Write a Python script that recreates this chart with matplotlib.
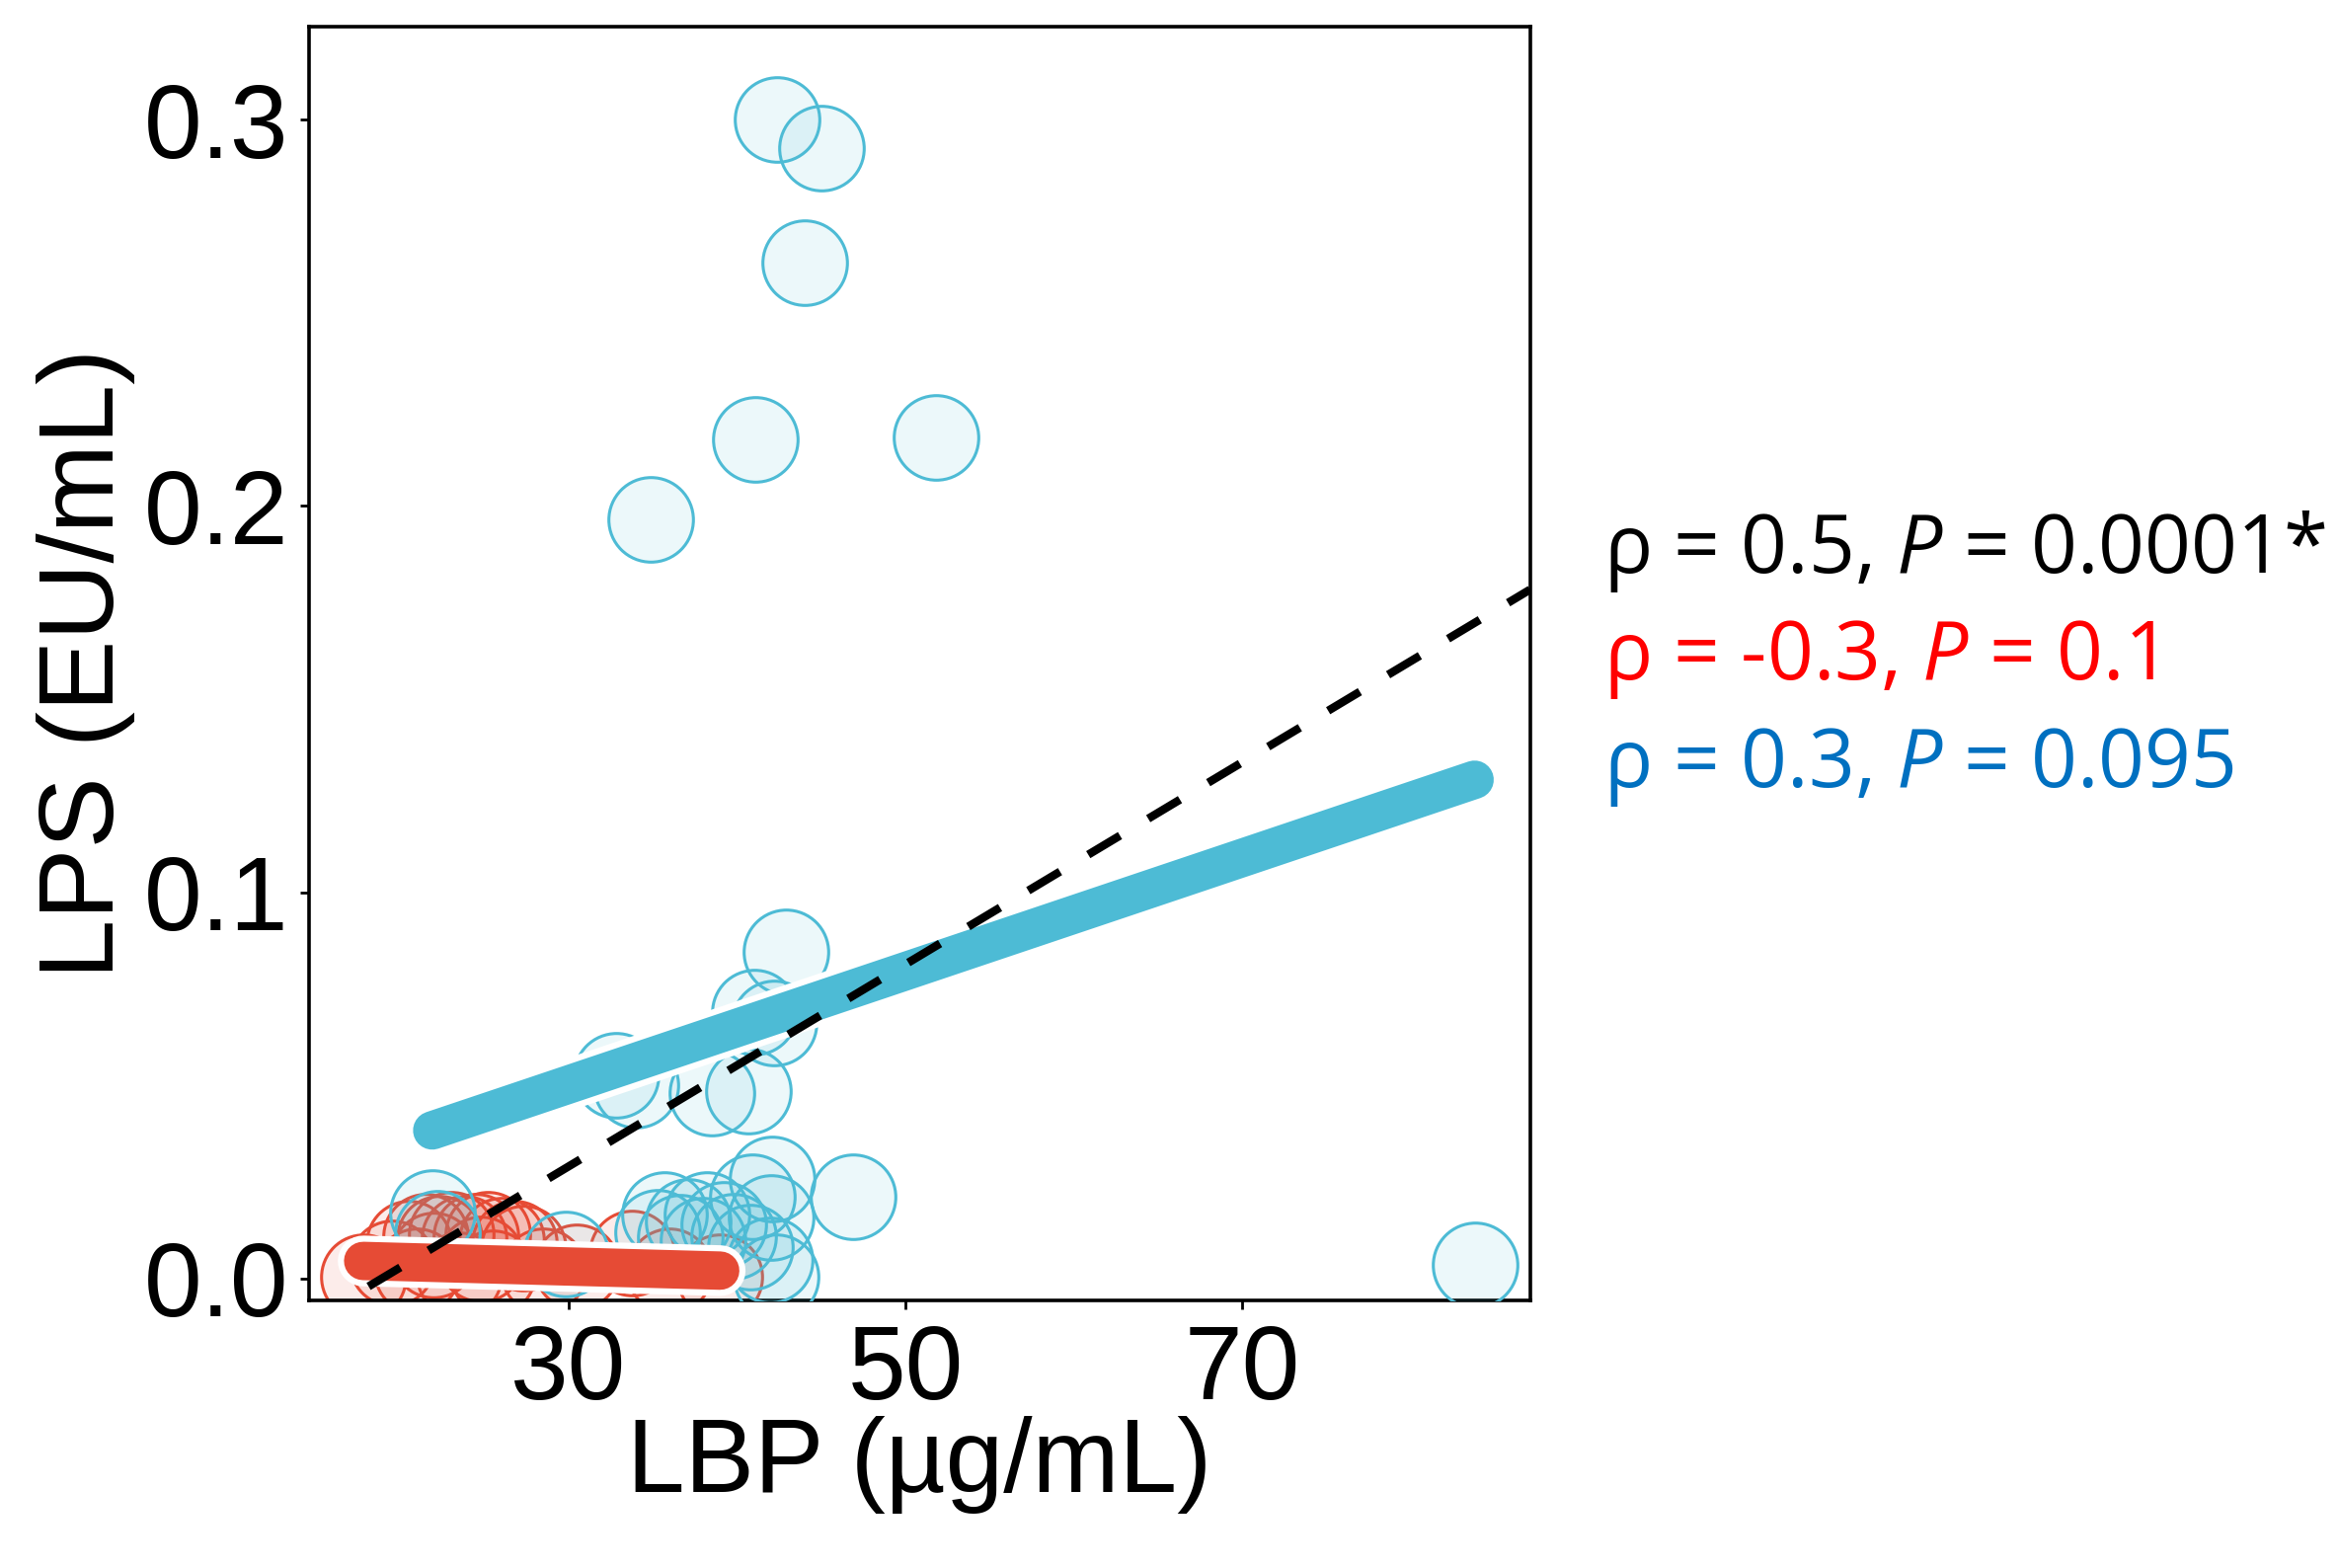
import numpy as np
import matplotlib
matplotlib.use("Agg")
import matplotlib.pyplot as plt
import matplotlib.patheffects as pe

# ------------------------
# data
# ------------------------
red_x = [17.8, 19.5, 20.5, 21.5, 22.3, 23.0, 23.8, 24.5, 25.2, 26.0, 26.8,
         27.3, 21.0, 23.5, 25.5, 28.5, 30.5, 33.75, 36.0, 39.0, 22.0, 24.8]
red_y = [0.0005, 0.004, 0.009, 0.011, 0.0105, 0.0115, 0.0105, 0.011, 0.0115,
         0.010, 0.009, 0.0079, 0.002, 0.001, 0.0015, 0.002, 0.003, 0.0066,
         0.002, 0.0003, 0.006, 0.005]

blue_x = [42.35, 45.0, 44.0, 41.1, 51.8, 34.9, 83.8, 42.9, 41.0, 42.2,
          32.8, 34.0, 38.5, 40.7, 46.9, 42.1, 40.9, 42.05, 35.7, 37.1,
          38.2, 39.2, 39.8, 40.8, 41.95, 42.3, 35.3, 36.65, 38.0, 21.9,
          22.2, 29.8]
blue_y = [0.300, 0.2927, 0.263, 0.2173, 0.2178, 0.1965, 0.0036, 0.0845, 0.069,
          0.066, 0.0527, 0.050, 0.048, 0.0485, 0.021, 0.0257, 0.021, 0.0158,
          0.0165, 0.0148, 0.0165, 0.014, 0.011, 0.0082, 0.0047, 0.0005, 0.012,
          0.0106, 0.0098, 0.017, 0.0117, 0.0063]

# fitted lines (slope, intercept)
red_fit = (-0.000118, 0.0066)
blue_fit = (0.001467, 0.00617)
all_fit = (0.002616, -0.0495)

stats_text = [r"ρ = 0.5, $\mathit{P}$ = 0.0001*",
              r"ρ = -0.3, $\mathit{P}$ = 0.1",
              r"ρ = 0.3, $\mathit{P}$ = 0.095"]
stats_colors = ["black", "#FF0000", "#0070C0"]

red = "#E64B35"
blue = "#4DBBD5"

plt.rcParams["font.family"] = ["Liberation Sans", "DejaVu Sans"]
plt.rcParams["mathtext.fontset"] = "custom"
plt.rcParams["mathtext.rm"] = "Open Sans"
plt.rcParams["mathtext.it"] = "Open Sans:italic"

fig = plt.figure(figsize=(11.84, 7.94), dpi=200)
ax = fig.add_axes([0.1320, 0.1707, 0.5224, 0.8123])

ax.scatter(red_x, red_y, s=950, facecolors=matplotlib.colors.to_rgba(red, 0.1),
           edgecolors=red, linewidths=1.1, zorder=2)
ax.scatter(blue_x, blue_y, s=950, facecolors=matplotlib.colors.to_rgba(blue, 0.1),
           edgecolors=blue, linewidths=1.1, zorder=3)

ax.set_xlim(14.56, 87.09)
ax.set_ylim(-0.0057, 0.3241)

outline = [pe.Stroke(linewidth=18.5, foreground="white"), pe.Normal()]
for xs, fit, col in [(red_x, red_fit, red), (blue_x, blue_fit, blue)]:
    xx = np.array([min(xs), max(xs)])
    ax.plot(xx, fit[0] * xx + fit[1], color=col, lw=14,
            solid_capstyle="round", path_effects=outline, zorder=4)

xx = np.array(ax.get_xlim())
ax.plot(xx, all_fit[0] * xx + all_fit[1], color="black", lw=3,
        linestyle=(0, (4.5, 4)), zorder=5)

ax.set_xticks([30, 50, 70])
ax.set_yticks([0.0, 0.1, 0.2, 0.3])
ax.set_yticklabels(["0.0", "0.1", "0.2", "0.3"])
ax.tick_params(labelsize=38, length=3.4, width=1, pad=4)
ax.tick_params(axis="x", pad=5)
for sp in ax.spines.values():
    sp.set_linewidth(1.3)

ax.set_xlabel("LBP (µg/mL)", fontsize=38, labelpad=-2)
ax.set_ylabel("LPS (EU/mL)", fontsize=39, labelpad=3)

for i, (txt, col) in enumerate(zip(stats_text, stats_colors)):
    fig.text(1624 / 2368, 1 - (580 + i * 108.5) / 1588, txt, color=col,
             fontsize=29.5, family="Open Sans", va="baseline", ha="left")

fig.savefig("out.png", dpi=200)
